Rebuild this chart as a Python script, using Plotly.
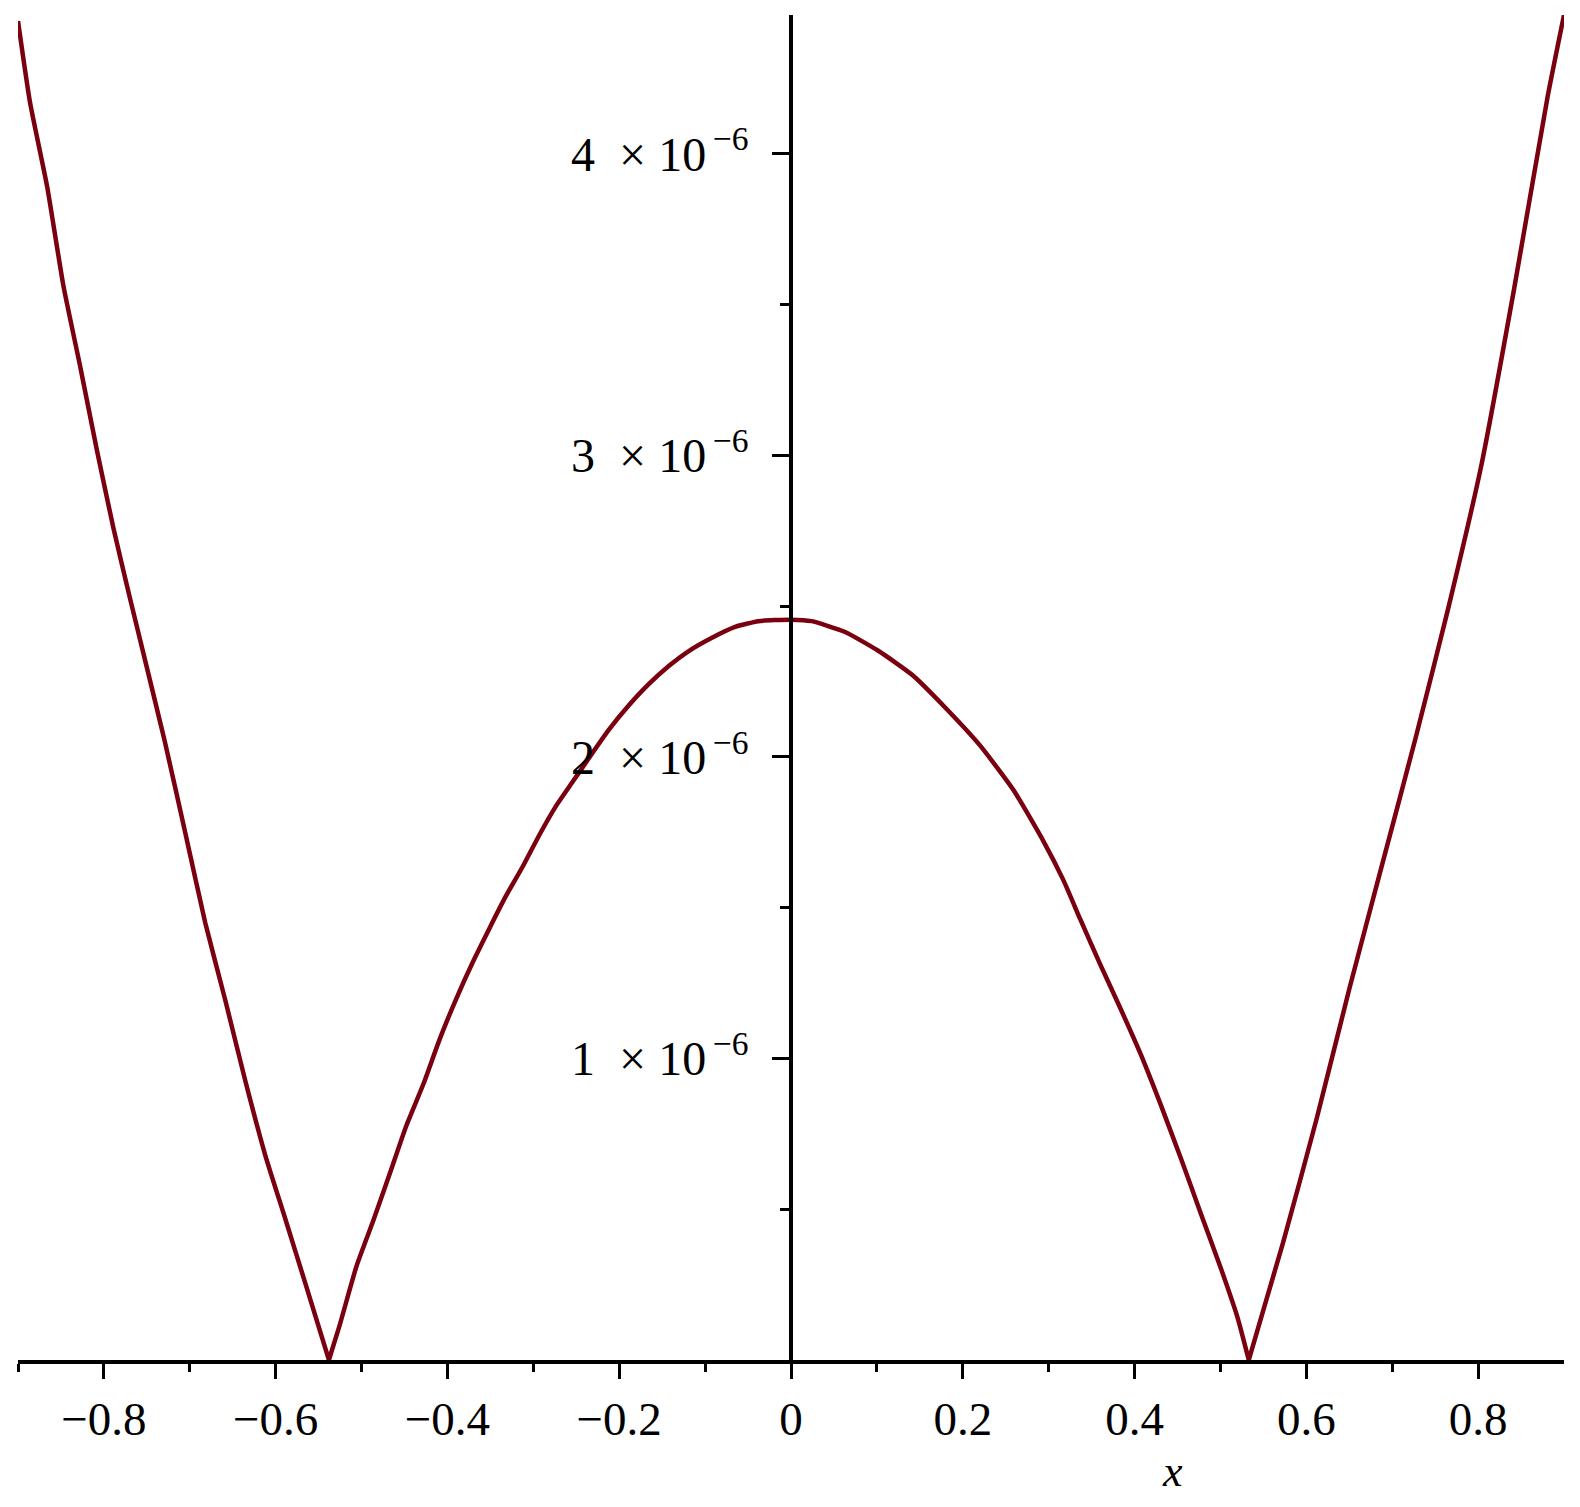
import plotly.graph_objects as go

# curve data (y in units of 1e-6)
x_vals = [-0.9, -0.886, -0.866, -0.847, -0.828, -0.808, -0.789, -0.770, -0.752, -0.729,
          -0.705, -0.682, -0.659, -0.635, -0.612, -0.589, -0.565, -0.538,
          -0.525, -0.506, -0.486, -0.467, -0.448, -0.428, -0.409, -0.390, -0.370, -0.351,
          -0.332, -0.312, -0.293, -0.274, -0.254, -0.235, -0.212, -0.189, -0.166, -0.142,
          -0.119, -0.092, -0.065, -0.038, 0.0,
          0.024, 0.063, 0.102, 0.141, 0.180, 0.220, 0.259, 0.294, 0.317, 0.337,
          0.360, 0.384, 0.407, 0.430, 0.454, 0.477, 0.501, 0.520, 0.533,
          0.573, 0.612, 0.650, 0.688, 0.727, 0.765, 0.804, 0.842, 0.881, 0.9]
y_e6 = [4.44, 4.17, 3.89, 3.56, 3.30, 3.015, 2.76, 2.53, 2.32, 2.05,
        1.745, 1.45, 1.197, 0.922, 0.678, 0.47, 0.25, 0.0,
        0.12, 0.31, 0.465, 0.619, 0.776, 0.915, 1.064, 1.196, 1.322, 1.432,
        1.538, 1.638, 1.741, 1.835, 1.918, 1.997, 2.090, 2.170, 2.240, 2.302,
        2.351, 2.395, 2.431, 2.450, 2.455,
        2.450, 2.414, 2.351, 2.272, 2.162, 2.038, 1.890, 1.720, 1.592, 1.460,
        1.312, 1.163, 1.015, 0.850, 0.668, 0.487, 0.300, 0.140, 0.0,
        0.39, 0.80, 1.23, 1.64, 2.06, 2.49, 2.97, 3.553, 4.19, 4.46]

x_tickvals = [-0.8, -0.6, -0.4, -0.2, 0, 0.2, 0.4, 0.6, 0.8]
x_ticktext = ["\u22120.8", "\u22120.6", "\u22120.4", "\u22120.2", "0", "0.2", "0.4", "0.6", "0.8"]
x_minor = [-0.9, -0.7, -0.5, -0.3, -0.1, 0.1, 0.3, 0.5, 0.7]
y_tickvals = [1, 2, 3, 4]
y_ticktext = [f"{v}\u00a0 \u00d7 10<sup>\u2009\u22126</sup>" for v in y_tickvals]
y_minor = [0.5, 1.5, 2.5, 3.5]

LINE = "rgb(122,0,16)"
FONT = "Liberation Serif"

# split the curve at its zeros so the smoothing keeps the sharp V tips
zero_idx = [i for i, v in enumerate(y_e6) if v == 0.0]
bounds = [0] + zero_idx + [len(x_vals) - 1]

fig = go.Figure()
for a, b in zip(bounds[:-1], bounds[1:]):
    fig.add_trace(go.Scatter(x=x_vals[a:b + 1], y=y_e6[a:b + 1], mode="lines",
                             line=dict(color=LINE, width=4.5, shape="spline", smoothing=0.5),
                             showlegend=False, cliponaxis=False))

# the page body adds an 8px offset, so margins are reduced by 8 on the left/top
fig.update_layout(
    width=1580, height=1507,
    margin=dict(l=10, r=24, t=7, b=155, autoexpand=False),
    plot_bgcolor="white", paper_bgcolor="white",
    xaxis=dict(range=[-0.9, 0.9], showgrid=False, zeroline=False, automargin=False,
               showline=True, linecolor="black", linewidth=3.5,
               ticks="outside", ticklen=15, tickwidth=3, tickcolor="black",
               tickmode="array", tickvals=x_tickvals, ticktext=x_ticktext,
               tickfont=dict(family=FONT, size=47, color="black"),
               ticklabelstandoff=0,
               minor=dict(tickmode="array", tickvals=x_minor, ticks="outside",
                          ticklen=8, tickwidth=3, tickcolor="black"),
               anchor="y"),
    yaxis=dict(range=[0, 4.46], showgrid=False, zeroline=False, automargin=False,
               showline=True, linecolor="black", linewidth=3.5,
               ticks="outside", ticklen=17, tickwidth=3, tickcolor="black",
               tickmode="array", tickvals=y_tickvals, ticktext=y_ticktext,
               tickfont=dict(family=FONT, size=48, color="black"),
               ticklabelstandoff=14,
               minor=dict(tickmode="array", tickvals=y_minor, ticks="outside",
                          ticklen=9, tickwidth=3, tickcolor="black"),
               anchor="free", position=0.5),
    annotations=[dict(x=0.444, xref="x", y=-0.083, yref="paper",
                      text="<i>x</i>", showarrow=False,
                      font=dict(family=FONT, size=44, color="black"),
                      xanchor="center", yanchor="middle")],
)

fig.write_html("out.html")
